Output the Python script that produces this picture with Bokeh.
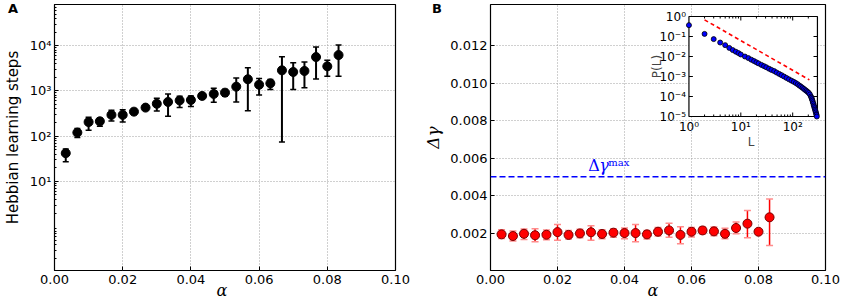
import math
from bokeh.plotting import figure
from bokeh.models import (Range1d, FixedTicker, PrintfTickFormatter, CustomJSTickFormatter,
                          ColumnDataSource, Whisker, TeeHead, Span, Label, LogScale, Div)
from bokeh.layouts import row, column
from bokeh.embed import file_html
from bokeh.resources import INLINE
from bokeh.core.properties import value

# ---------------- data ----------------
alpha = [0.0033, 0.0067, 0.0100, 0.0133, 0.0167, 0.0200, 0.0233, 0.0267, 0.0300, 0.0333,
         0.0367, 0.0400, 0.0433, 0.0467, 0.0500, 0.0533, 0.0567, 0.0600, 0.0633, 0.0667,
         0.0700, 0.0733, 0.0767, 0.0800, 0.0833]

steps = [42, 120, 205, 213, 295, 295, 348, 427, 520, 570, 616, 630, 774, 857, 915,
         1240, 1810, 1370, 1470, 2850, 2620, 2760, 5600, 3490, 6200]
steps_hi = [52, 148, 263, 245, 372, 385, 400, 470, 690, 850, 760, 775, 870, 1150, 1080,
            1940, 3260, 1870, 1780, 5700, 4200, 4360, 9370, 4750, 10300]
steps_lo = [27, 93, 135, 166, 215, 205, 302, 385, 360, 275, 430, 455, 675, 560, 760,
            565, 365, 815, 1070, 74, 1070, 1180, 1830, 2100, 2100]

dgamma = [0.00193, 0.00184, 0.00196, 0.00188, 0.00191, 0.00205, 0.00190, 0.00198, 0.00204, 0.00195,
          0.00202, 0.00200, 0.00200, 0.00193, 0.00207, 0.00214, 0.00190, 0.00207, 0.00214, 0.00209,
          0.00196, 0.00227, 0.00250, 0.00207, 0.00284]
dgamma_hi = [0.00218, 0.00211, 0.00221, 0.00223, 0.00216, 0.00245, 0.00214, 0.00220, 0.00239, 0.00218,
             0.00223, 0.00227, 0.00245, 0.00214, 0.00229, 0.00252, 0.00234, 0.00229, 0.00234, 0.00232,
             0.00225, 0.00259, 0.00320, 0.00214, 0.00382]
dgamma_lo = [0.00171, 0.00157, 0.00166, 0.00154, 0.00164, 0.00161, 0.00168, 0.00175, 0.00161, 0.00170,
             0.00177, 0.00170, 0.00154, 0.00168, 0.00184, 0.00177, 0.00143, 0.00179, 0.00195, 0.00186,
             0.00170, 0.00196, 0.00175, 0.00196, 0.00134]
dgamma_max = 0.005

# inset: P(L) distribution
L_vals = [1, 2, 3, 4, 5, 6, 7, 8, 9, 10, 12, 14, 16, 18, 20, 22, 25, 28, 31, 35, 39, 44, 49, 55,
          61, 68, 76, 85, 95, 105, 115, 125, 135, 145, 155, 165, 175, 185, 195, 205, 215, 225,
          230, 235, 240, 245, 250, 255, 260, 265, 270, 275, 280, 285, 288, 292]
P_vals = [0.37, 0.135, 0.074, 0.050, 0.037, 0.0269, 0.0209, 0.0174, 0.0148, 0.0126, 0.0100,
          0.0083, 0.0069, 0.0059, 0.0051, 0.0045, 0.0038, 0.0033, 0.0029, 0.00245, 0.00214,
          0.00186, 0.00158, 0.00135, 0.00117, 0.00100, 0.00085, 0.00072, 0.00062, 0.00054,
          0.00047, 0.00041, 0.00035, 0.00031, 0.00027, 0.00024, 0.00021, 0.00019, 0.00017,
          0.00015, 0.000126, 0.000100, 0.000087, 0.000074, 0.000063, 0.000052, 0.000044,
          0.000036, 0.000031, 0.000026, 0.000022, 0.0000186, 0.000016, 0.0000132, 0.000012,
          0.0000100]
L_fit = [2, 210]
P_fit = [0.68, 0.00068]

x_ticks = [0.0, 0.02, 0.04, 0.06, 0.08, 0.10]
left_y_ticks = [10, 100, 1000, 10000]
right_y_ticks = [0.002, 0.004, 0.006, 0.008, 0.010, 0.012]
inset_y_ticks = [1, 0.1, 0.01, 0.001, 0.0001, 0.00001]
inset_y_labels = ["10⁰", "10⁻¹", "10⁻²", "10⁻³", "10⁻⁴", "10⁻⁵"]
inset_x_ticks = [1, 10, 100]
inset_x_labels = ["10⁰", "10¹", "10²"]
panel_letters = ["A", "B"]
x_label = "α"

SANS = "DejaVu Sans"
SERIF = "DejaVu Serif"

sup_fmt = CustomJSTickFormatter(code="""
const s = {"0":"\u2070","1":"\u00b9","2":"\u00b2","3":"\u00b3","4":"\u2074","5":"\u2075",
           "6":"\u2076","7":"\u2077","8":"\u2078","9":"\u2079","-":"\u207b"};
const e = Math.round(Math.log10(tick));
return "10" + String(e).split("").map(c => s[c]).join("");
""")


def style(p):
    p.outline_line_color = "black"
    p.outline_line_width = 1.2
    p.background_fill_color = "white"
    p.border_fill_color = None
    for ax in (p.xaxis[0], p.yaxis[0]):
        ax.axis_line_color = None
        ax.major_tick_in = 4
        ax.major_tick_out = 0
        ax.minor_tick_in = 2
        ax.minor_tick_out = 0
        ax.major_tick_line_color = "black"
        ax.minor_tick_line_color = "black"
        ax.major_label_text_font = SANS
        ax.major_label_text_font_size = "13px"
        ax.major_label_text_color = "black"
        ax.major_label_standoff = 3
        ax.axis_label_text_color = "black"
    p.xaxis.major_label_standoff = 4
    p.grid.grid_line_color = "#a0a0a0"
    p.grid.grid_line_dash = "1 2"
    p.grid.grid_line_width = 1


# ---------------- panel A ----------------
W1, H = 420, 300
p1 = figure(width=W1, height=H, x_range=Range1d(0, 0.1),
            y_range=Range1d(10 ** -0.97, 10 ** 4.91), y_axis_type="log",
            output_backend="svg", toolbar_location=None,
            min_border_left=49, min_border_right=25, min_border_top=4, min_border_bottom=30)
style(p1)
p1.xaxis.ticker = FixedTicker(ticks=x_ticks)
p1.xaxis.formatter = PrintfTickFormatter(format="%.2f")
p1.yaxis.ticker = FixedTicker(ticks=left_y_ticks,
                              minor_ticks=[m * 10 ** e for e in range(-1, 5) for m in range(2, 10)])
p1.yaxis.formatter = sup_fmt
p1.yaxis.axis_label = "Hebbian learning steps"
p1.yaxis.axis_label_text_font = SANS
p1.yaxis.axis_label_text_font_style = "normal"
p1.yaxis.axis_label_text_font_size = "15px"
p1.yaxis.axis_label_standoff = 5

src1 = ColumnDataSource(dict(x=alpha, y=steps, hi=steps_hi, lo=steps_lo))
p1.add_layout(Whisker(source=src1, base="x", upper="hi", lower="lo", line_color="black", line_width=2,
                      upper_head=TeeHead(size=6, line_color="black", line_width=1.5),
                      lower_head=TeeHead(size=6, line_color="black", line_width=1.5)))
p1.scatter("x", "y", source=src1, size=9, fill_color="black", line_color="black")

# ---------------- panel B ----------------
W2 = 423
p2 = figure(width=W2, height=H, x_range=Range1d(0, 0.1), y_range=Range1d(0, 0.0142),
            output_backend="svg", toolbar_location=None,
            min_border_left=64, min_border_right=18, min_border_top=4, min_border_bottom=30)
style(p2)
p2.xaxis.ticker = FixedTicker(ticks=x_ticks)
p2.xaxis.formatter = PrintfTickFormatter(format="%.2f")
p2.yaxis.ticker = FixedTicker(ticks=right_y_ticks)
p2.yaxis.formatter = PrintfTickFormatter(format="%.3f")
p2.yaxis.axis_label = "Δγ"
p2.yaxis.axis_label_text_font = SERIF
p2.yaxis.axis_label_text_font_style = "italic"
p2.yaxis.axis_label_text_font_size = "17px"
p2.yaxis.axis_label_standoff = 4

fw2 = W2 - 64 - 18
fh = H - 4 - 30

# inset coordinate system (log-log) mapped onto the frame
inset_left_px, inset_top_px = 202, 12
dec_x, dec_y = 52.8, 20.0
x_lo = 10 ** (-inset_left_px / dec_x)
x_hi = 10 ** ((fw2 - inset_left_px) / dec_x)
y_hi = 10 ** (inset_top_px / dec_y)
y_lo = 10 ** (-5 - (fh - inset_top_px - 5 * dec_y) / dec_y)
p2.extra_x_ranges = {"ix": Range1d(x_lo, x_hi)}
p2.extra_y_ranges = {"iy": Range1d(y_lo, y_hi)}
p2.extra_x_scales = {"ix": LogScale()}
p2.extra_y_scales = {"iy": LogScale()}

Lmax = 300
p2.quad(left=[1], right=[Lmax], bottom=[1e-5], top=[1], x_range_name="ix", y_range_name="iy",
        fill_color="white", line_color="black", line_width=1.2)

# inset ticks
tx = 10 ** (4 / dec_x)
ty = 10 ** (4 / dec_y)
tym = 10 ** (2 / dec_y)
yt = [v for v in inset_y_ticks[1:-1]]
segs = dict(x0=[], y0=[], x1=[], y1=[])
for v in yt:
    segs["x0"] += [1, Lmax / tx]; segs["x1"] += [tx, Lmax]
    segs["y0"] += [v, v]; segs["y1"] += [v, v]
for v in inset_x_ticks[1:]:
    segs["x0"] += [v, v]; segs["x1"] += [v, v]
    segs["y0"] += [1e-5, 1 / ty]; segs["y1"] += [1e-5 * ty, 1]
for e in range(0, 3):
    for m in range(2, 10):
        v = m * 10 ** e
        if v < Lmax:
            segs["x0"] += [v, v]; segs["x1"] += [v, v]
            segs["y0"] += [1e-5, 1 / tym]; segs["y1"] += [1e-5 * tym, 1]
p2.segment(x0="x0", y0="y0", x1="x1", y1="y1", source=ColumnDataSource(segs),
           x_range_name="ix", y_range_name="iy", line_color="black", line_width=1)

p2.line(L_fit, P_fit, x_range_name="ix", y_range_name="iy", line_color="red",
        line_dash="4 3", line_width=1.6)
p2.scatter(L_vals, P_vals, x_range_name="ix", y_range_name="iy", size=5,
           fill_color="#0000ff", line_color="black", line_width=0.8)

p2.text(x=[1] * len(inset_y_ticks), y=inset_y_ticks, text=inset_y_labels,
        x_range_name="ix", y_range_name="iy", x_offset=-3,
        text_font=value(SANS), text_font_size="12px", text_align="right",
        text_baseline="middle", text_color="black")
p2.text(x=inset_x_ticks, y=[1e-5] * len(inset_x_ticks), text=inset_x_labels,
        x_range_name="ix", y_range_name="iy", y_offset=3,
        text_font=value(SANS), text_font_size="12px", text_align="center",
        text_baseline="top", text_color="black")
p2.add_layout(Label(x=1, y=10 ** -2.5, x_range_name="ix", y_range_name="iy", x_offset=-32,
                    text="P(L)", angle=math.pi / 2, text_font=SANS, text_font_size="12px",
                    text_align="center", text_baseline="middle"))
p2.add_layout(Label(x=10 ** 1.2, y=1e-5, x_range_name="ix", y_range_name="iy", y_offset=-25,
                    text="L", text_font=SANS, text_font_size="12px",
                    text_align="center", text_baseline="middle"))

# main data
p2.add_layout(Span(location=dgamma_max, dimension="width", line_color="#0000ff",
                   line_dash="6 3", line_width=1.5))
src2 = ColumnDataSource(dict(x=alpha, y=dgamma, hi=dgamma_hi, lo=dgamma_lo))
p2.add_layout(Whisker(source=src2, base="x", upper="hi", lower="lo", line_color="red", line_width=1.5,
                      upper_head=TeeHead(size=7, line_color="#ff8c8c", line_width=1.5),
                      lower_head=TeeHead(size=7, line_color="#ff8c8c", line_width=1.5)))
p2.scatter("x", "y", source=src2, size=9, fill_color="#ff0000", line_color="#7a0000", line_width=1)

lab_x = 0.0292
p2.text(x=[lab_x], y=[dgamma_max], text=["Δ"], y_offset=-2, text_font=value(SERIF),
        text_font_size="16px", text_color="#0000ff", text_baseline="bottom", text_align="left")
p2.text(x=[lab_x], y=[dgamma_max], text=["γ"], x_offset=11, y_offset=-2, text_font=value(SERIF),
        text_font_style="italic", text_font_size="16px", text_color="#0000ff",
        text_baseline="bottom", text_align="left")
p2.text(x=[lab_x], y=[dgamma_max], text=["max"], x_offset=20, y_offset=-9, text_font=value(SERIF),
        text_font_size="10px", text_color="#0000ff", text_baseline="bottom", text_align="left")

# panel letters and x labels (HTML overlays over the transparent figure borders)
letter_style = {"font-family": "DejaVu Sans", "font-size": "13px", "font-weight": "bold",
                "line-height": "16px", "color": "black"}
alpha_style = {"font-family": "DejaVu Serif", "font-size": "16px", "font-style": "italic",
               "line-height": "19px", "color": "black", "text-align": "center"}
divA = Div(text=panel_letters[0], width=20, height=16, margin=(1, 0, 0, 8), styles=letter_style)
divB = Div(text=panel_letters[1], width=20, height=16, margin=(1, 0, 0, 404), styles=letter_style)
letters = row(divA, divB, margin=(0, 0, 0, 0))
figs = row(p1, p2, margin=(-17, 0, 0, 0))
xa1 = Div(text=x_label, width=20, height=19, margin=(0, 0, 0, 212), styles=alpha_style)
xa2 = Div(text=x_label, width=20, height=19, margin=(0, 0, 0, 411), styles=alpha_style)
xlabels = row(xa1, xa2, margin=(-19, 0, 0, 0))
layout = column(letters, figs, xlabels, margin=(0, 0, 0, 0))
open("out.html", "w").write(file_html(layout, INLINE))
